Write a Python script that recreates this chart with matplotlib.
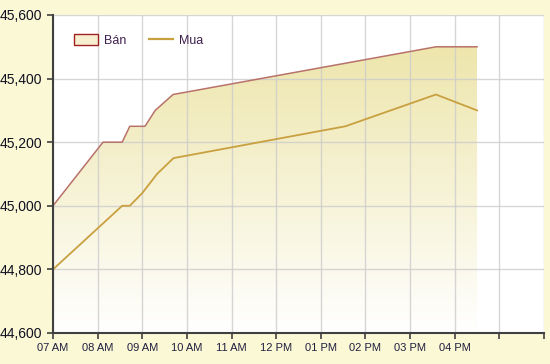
import numpy as np
import matplotlib.pyplot as plt
from matplotlib.patches import Patch
from matplotlib.lines import Line2D
from matplotlib.ticker import FuncFormatter

plt.rcParams['font.family'] = ['Liberation Sans', 'DejaVu Sans']

# times as decimal hours
ban_t = [7.0, 8.12, 8.55, 8.72, 9.06, 9.29, 9.69, 15.58, 16.5]
ban_v = [45000, 45200, 45200, 45250, 45250, 45300, 45350, 45500, 45500]
mua_t = [7.0, 8.55, 8.72, 9.0, 9.33, 9.7, 13.55, 15.58, 16.5]
mua_v = [44800, 45000, 45000, 45040, 45100, 45150, 45250, 45350, 45300]

hours = list(range(7, 19))
hour_labels = ['07 AM', '08 AM', '09 AM', '10 AM', '11 AM', '12 PM',
               '01 PM', '02 PM', '03 PM', '04 PM', '', '']
yticks = [44600, 44800, 45000, 45200, 45400, 45600]

bg = '#fbf8d6'
fig = plt.figure(figsize=(5.5, 3.64), dpi=100, facecolor=bg)
ax = fig.add_axes([53/550, 31/364, 491/550, 318/364])
ax.set_facecolor('white')
ax.set_xlim(7, 18)
ax.set_ylim(44600, 45600)

# gradient fill under Bán
poly = ax.fill_between(ban_t, ban_v, 44600, facecolor='none', edgecolor='none')
grad = np.linspace(1, 0, 256).reshape(-1, 1)
top_c = np.array([0.925, 0.89, 0.64])
bot_c = np.array([1.0, 1.0, 1.0])
img = bot_c + (top_c - bot_c) * grad[..., None]
im = ax.imshow(img, extent=[7, 18, 44600, 45600], aspect='auto',
               origin='upper', zorder=1)
path = poly.get_paths()[0]
im.set_clip_path(path, transform=ax.transData)

ax.grid(True, color='#cccccc', linewidth=1)
for gl in ax.get_xgridlines() + ax.get_ygridlines():
    gl.set_zorder(1.5)
    gl.set_alpha(0.8)

ax.plot(ban_t, ban_v, color='#b8726a', lw=1.1, zorder=3)
ax.plot(mua_t, mua_v, color='#c9a040', lw=1.3, zorder=3)

ax.set_xticks(hours)
ax.set_xticklabels(hour_labels, fontsize=8, color='#202040')
ax.set_yticks(yticks)
ax.yaxis.set_major_formatter(FuncFormatter(lambda v, p: f'{int(v):,}'))
ax.tick_params(axis='y', labelsize=10, labelcolor='#101020', length=4,
               width=1.2, color='#404040')
ax.tick_params(axis='x', length=4, width=1.2, color='#404040')
for s in ['top', 'right']:
    ax.spines[s].set_visible(False)
for s in ['left', 'bottom']:
    ax.spines[s].set_color('#404040')
    ax.spines[s].set_linewidth(1.5)
    ax.spines[s].set_zorder(4)

handles = [Patch(facecolor='#f6f0d0', edgecolor='#a02020', linewidth=1),
           Line2D([0], [0], color='#c9a040', lw=1.6)]
leg = ax.legend(handles, ['Bán', 'Mua'], loc='upper left', ncol=2,
                frameon=False, fontsize=9, bbox_to_anchor=(0.02, 0.975),
                handlelength=1.9, handleheight=0.9, columnspacing=1.8,
                handletextpad=0.5)
for t in leg.get_texts():
    t.set_color('#402050')

fig.savefig('out.png', dpi=100, facecolor=bg)
